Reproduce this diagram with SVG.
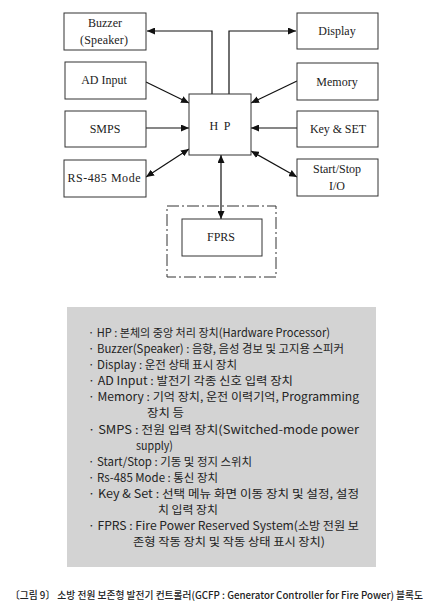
<svg xmlns="http://www.w3.org/2000/svg" width="434" height="616" viewBox="0 0 434 616">
<defs>
<style>
.box{fill:#fff;stroke:#333;stroke-width:1}
.bt{font-family:"Liberation Serif","Noto Serif CJK KR",serif;font-size:12px;fill:#222;text-anchor:middle}
.con{fill:none;stroke:#111;stroke-width:1.2}
.leg{font-family:"Noto Sans CJK KR","Noto Sans",sans-serif;font-size:11.5px;fill:#222}
.cap{font-family:"Noto Sans CJK KR","Noto Sans",sans-serif;font-size:10px;fill:#222;font-weight:500}
</style>
<marker id="ah" markerUnits="userSpaceOnUse" markerWidth="8" markerHeight="7" refX="8" refY="3.5" orient="auto-start-reverse">
<path d="M0,0 L8,3.5 L0,7 z" fill="#111"/>
</marker>
</defs>
<rect width="434" height="616" fill="#fff"/>

<g id="connectors">
<polyline class="con" points="212,94 212,31 147,31" marker-end="url(#ah)"/>
<polyline class="con" points="229,94 229,31 296,31" marker-end="url(#ah)"/>
<line class="con" x1="146" y1="82" x2="189" y2="103" marker-end="url(#ah)"/>
<line class="con" x1="297" y1="81" x2="251" y2="103" marker-end="url(#ah)"/>
<line class="con" x1="146" y1="128" x2="189" y2="128" marker-end="url(#ah)"/>
<line class="con" x1="297" y1="128" x2="251" y2="128" marker-end="url(#ah)"/>
<line class="con" x1="189" y1="149" x2="146" y2="177" marker-start="url(#ah)" marker-end="url(#ah)"/>
<line class="con" x1="251" y1="151" x2="297" y2="177" marker-start="url(#ah)" marker-end="url(#ah)"/>
<line class="con" x1="221" y1="155" x2="221" y2="219" marker-start="url(#ah)" marker-end="url(#ah)"/>
</g>

<g id="buzzer"><rect class="box" x="64" y="13" width="82" height="37"/>
<text class="bt" x="105" y="27">Buzzer</text><text class="bt" x="104" y="44" textLength="48" lengthAdjust="spacing">(Speaker)</text></g>
<g id="display"><rect class="box" x="297" y="13" width="81" height="36"/>
<text class="bt" x="337" y="35">Display</text></g>
<g id="adinput"><rect class="box" x="65" y="62" width="81" height="37"/>
<text class="bt" x="104" y="84">AD Input</text></g>
<g id="memory"><rect class="box" x="297" y="63" width="81" height="37"/>
<text class="bt" x="337" y="86">Memory</text></g>
<g id="hp"><rect class="box" x="189" y="94" width="62" height="61"/>
<text class="bt" x="220" y="130" textLength="21" lengthAdjust="spacing">H P</text></g>
<g id="smps"><rect class="box" x="65" y="111" width="81" height="36"/>
<text class="bt" x="105" y="133">SMPS</text></g>
<g id="keyset"><rect class="box" x="297" y="111" width="81" height="36"/>
<text class="bt" x="338" y="133" textLength="56" lengthAdjust="spacing">Key &amp; SET</text></g>
<g id="rs485"><rect class="box" x="64" y="160" width="82" height="37"/>
<text class="bt" x="104" y="182" textLength="73" lengthAdjust="spacing">RS-485 Mode</text></g>
<g id="startstop"><rect class="box" x="297" y="159" width="81" height="37"/>
<text class="bt" x="337" y="173">Start/Stop</text><text class="bt" x="337" y="190">I/O</text></g>
<g id="fprs">
<rect x="167" y="206" width="109" height="71" fill="none" stroke="#333" stroke-width="1" stroke-dasharray="12 3 2 3"/>
<rect class="box" x="182" y="219" width="80" height="37"/>
<text class="bt" x="221" y="241" textLength="28" lengthAdjust="spacing">FPRS</text></g>

<g id="legend">
<rect x="67" y="307" width="309" height="260" fill="#d3d3d3"/>
<text class="leg" x="88" y="337" textLength="242" lengthAdjust="spacingAndGlyphs">· HP : 본체의 중앙 처리 장치(Hardware Processor)</text>
<text class="leg" x="88" y="353" textLength="256" lengthAdjust="spacingAndGlyphs">· Buzzer(Speaker) : 음향, 음성 경보 및 고지용 스피커</text>
<text class="leg" x="88" y="369" textLength="149" lengthAdjust="spacingAndGlyphs">· Display : 운전 상태 표시 장치</text>
<text class="leg" x="88" y="385" textLength="205" lengthAdjust="spacingAndGlyphs">· AD Input : 발전기 각종 신호 입력 장치</text>
<text class="leg" x="88" y="401" textLength="271" lengthAdjust="spacingAndGlyphs">· Memory : 기억 장치, 운전 이력기억, Programming</text>
<text class="leg" x="147" y="417" textLength="37" lengthAdjust="spacingAndGlyphs">장치 등</text>
<text class="leg" x="88" y="434" textLength="271" lengthAdjust="spacingAndGlyphs">· SMPS : 전원 입력 장치(Switched-mode power</text>
<text class="leg" x="136" y="450" textLength="37" lengthAdjust="spacingAndGlyphs">supply)</text>
<text class="leg" x="88" y="466" textLength="164" lengthAdjust="spacingAndGlyphs">· Start/Stop : 기동 및 정지 스위치</text>
<text class="leg" x="88" y="482" textLength="130" lengthAdjust="spacingAndGlyphs">· Rs-485 Mode : 통신 장치</text>
<text class="leg" x="88" y="498" textLength="271" lengthAdjust="spacingAndGlyphs">· Key &amp; Set : 선택 메뉴 화면 이동 장치 및 설정, 설정</text>
<text class="leg" x="158" y="514" textLength="60" lengthAdjust="spacingAndGlyphs">치 입력 장치</text>
<text class="leg" x="88" y="530" textLength="271" lengthAdjust="spacingAndGlyphs">· FPRS : Fire Power Reserved System(소방 전원 보</text>
<text class="leg" x="133" y="546" textLength="192" lengthAdjust="spacingAndGlyphs">존형 작동 장치 및 작동 상태 표시 장치)</text>
</g>

<g id="caption">
<text class="cap" x="10" y="599" textLength="413" lengthAdjust="spacingAndGlyphs">〔그림 9〕 소방 전원 보존형 발전기 컨트롤러(GCFP : Generator Controller for Fire Power) 블록도</text>
</g>
</svg>
